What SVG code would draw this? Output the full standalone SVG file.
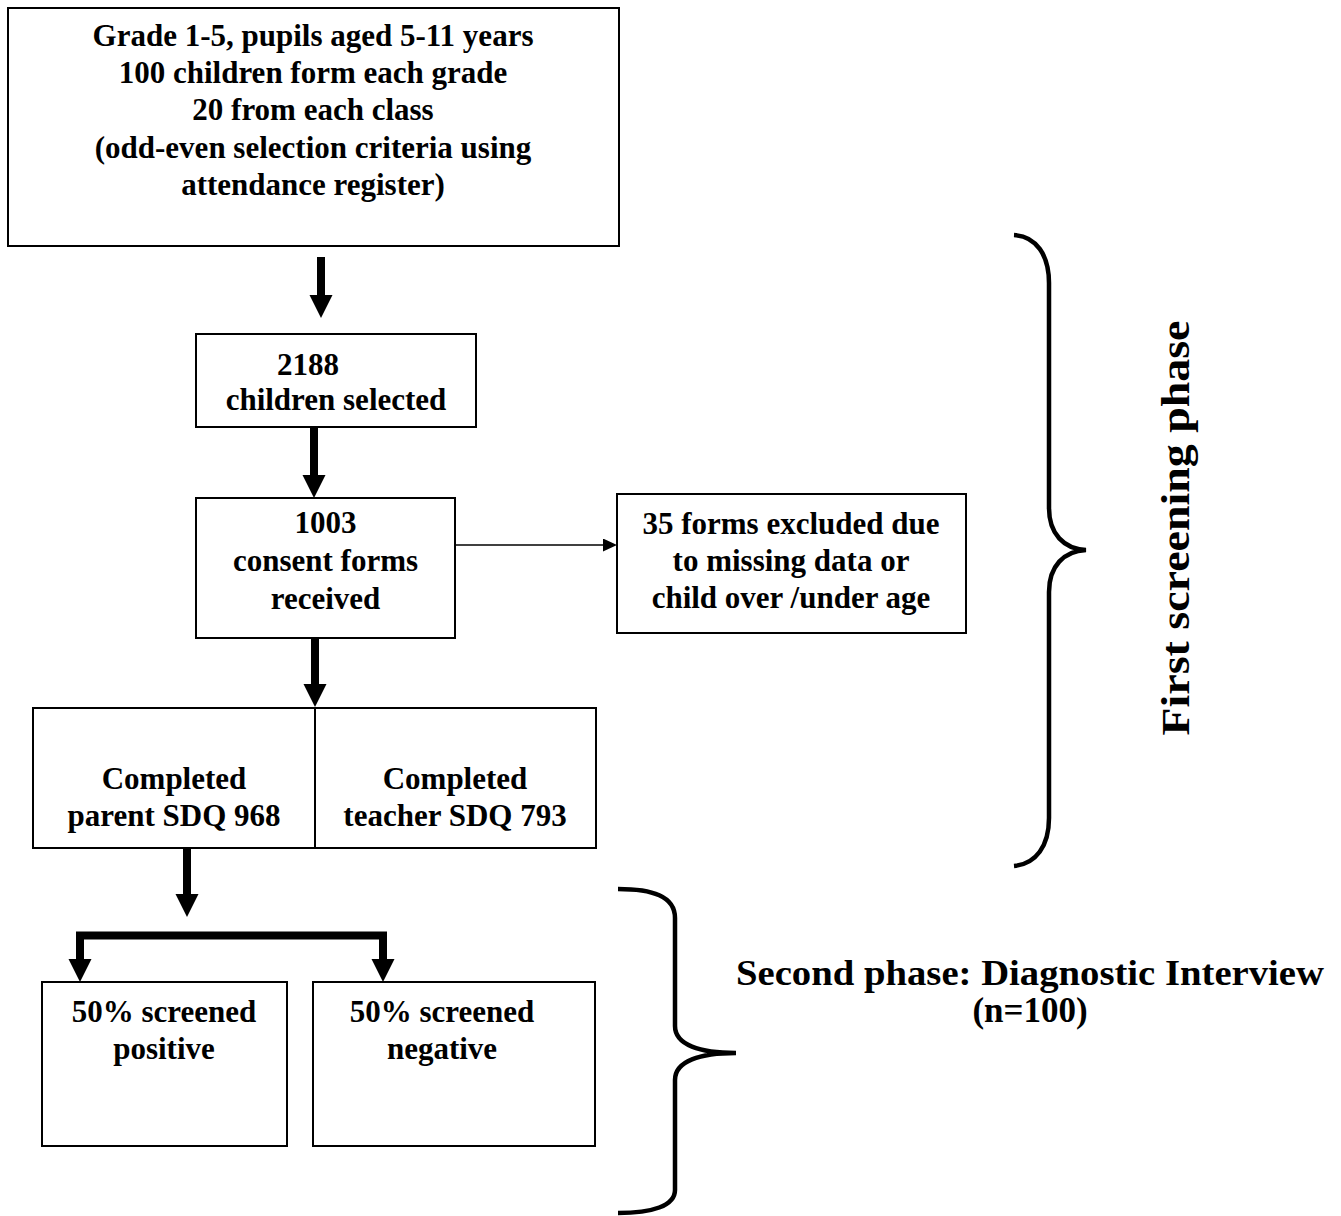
<svg xmlns="http://www.w3.org/2000/svg" width="1341" height="1216" viewBox="0 0 1341 1216">
  <style>
    .box { fill: #fff; stroke: #000; stroke-width: 2; }
    .lbl { font-family: "Liberation Serif", "Times New Roman", serif; font-weight: bold; font-size: 31px; fill: #000; text-anchor: middle; }
    .side { font-family: "Liberation Serif", "Times New Roman", serif; font-weight: bold; fill: #000; text-anchor: middle; }
    .bold { stroke: #000; stroke-width: 8; fill: none; }
    .thin { stroke: #000; stroke-width: 1.5; fill: none; }
    .brace { stroke: #000; stroke-width: 4.5; fill: none; stroke-linecap: butt; }
  </style>
  <defs>
    <marker id="headBold" markerUnits="userSpaceOnUse" markerWidth="24" markerHeight="24" refX="0" refY="11.5" orient="auto">
      <path d="M0,0 L23,11.5 L0,23 z" fill="#000"/>
    </marker>
    <marker id="headThin" markerUnits="userSpaceOnUse" markerWidth="16" markerHeight="14" refX="0" refY="6.5" orient="auto">
      <path d="M0,0 L14,6.5 L0,13 z" fill="#000"/>
    </marker>
  </defs>

  <rect width="1341" height="1216" fill="#fff"/>

  <!-- connectors -->
  <g id="connectors">
    <line class="bold" x1="321" y1="257" x2="321" y2="295" marker-end="url(#headBold)"/>
    <line class="bold" x1="314" y1="427" x2="314" y2="475" marker-end="url(#headBold)"/>
    <line class="bold" x1="315" y1="638" x2="315" y2="684" marker-end="url(#headBold)"/>
    <line class="thin" x1="455" y1="545" x2="603" y2="545" marker-end="url(#headThin)"/>
    <line class="bold" x1="187" y1="848" x2="187" y2="894" marker-end="url(#headBold)"/>
    <path class="bold" d="M80,959 L80,935.5 L383,935.5 L383,959" stroke-linejoin="miter"/>
    <line class="bold" x1="80" y1="955" x2="80" y2="959" marker-end="url(#headBold)"/>
    <line class="bold" x1="383" y1="955" x2="383" y2="959" marker-end="url(#headBold)"/>
  </g>

  <!-- sampling frame -->
  <g id="node-sampling">
    <rect class="box" x="8" y="8" width="611" height="238"/>
    <text class="lbl" x="313" y="46">Grade 1-5, pupils aged 5-11 years</text>
    <text class="lbl" x="313" y="83">100 children form each grade</text>
    <text class="lbl" x="313" y="120">20 from each class</text>
    <text class="lbl" x="313" y="158">(odd-even selection criteria using</text>
    <text class="lbl" x="313" y="195">attendance register)</text>
  </g>

  <g id="node-selected">
    <rect class="box" x="196" y="334" width="280" height="93"/>
    <text class="lbl" x="308" y="375">2188</text>
    <text class="lbl" x="336" y="410">children selected</text>
  </g>

  <g id="node-consent">
    <rect class="box" x="196" y="498" width="259" height="140"/>
    <text class="lbl" x="325.5" y="533">1003</text>
    <text class="lbl" x="325.5" y="571">consent forms</text>
    <text class="lbl" x="325.5" y="609">received</text>
  </g>

  <g id="node-excluded">
    <rect class="box" x="617" y="494" width="349" height="139"/>
    <text class="lbl" x="791" y="534">35 forms excluded due</text>
    <text class="lbl" x="791" y="571">to missing data or</text>
    <text class="lbl" x="791" y="608">child over /under age</text>
  </g>

  <g id="node-sdq">
    <rect class="box" x="33" y="708" width="563" height="140"/>
    <line x1="315" y1="708" x2="315" y2="848" stroke="#000" stroke-width="2"/>
    <text class="lbl" x="174" y="789">Completed</text>
    <text class="lbl" x="174" y="826">parent SDQ 968</text>
    <text class="lbl" x="455" y="789">Completed</text>
    <text class="lbl" x="455" y="826">teacher SDQ 793</text>
  </g>

  <g id="node-positive">
    <rect class="box" x="42" y="982" width="245" height="164"/>
    <text class="lbl" x="164" y="1022">50% screened</text>
    <text class="lbl" x="164" y="1059">positive</text>
  </g>

  <g id="node-negative">
    <rect class="box" x="313" y="982" width="282" height="164"/>
    <text class="lbl" x="442" y="1022">50% screened</text>
    <text class="lbl" x="442" y="1059">negative</text>
  </g>

  <!-- phase brackets -->
  <g id="phase-first">
    <path class="brace" d="M1014,235 C1036,236 1049,255 1049,283 L1049,508 C1049,534 1064,549 1086,550 C1064,551 1049,566 1049,592 L1049,818 C1049,846 1036,864 1014,866"/>
    <text class="side" font-size="40" transform="translate(1189,528) rotate(-90)" textLength="415" lengthAdjust="spacingAndGlyphs">First screening phase</text>
  </g>

  <g id="phase-second">
    <path class="brace" d="M618,889 C652,889 675,896 675,918 L675,1026 C675,1045 700,1053 736,1053 C700,1053 675,1061 675,1080 L675,1190 C675,1206 652,1213 618,1213"/>
    <text class="side" font-size="35" x="1030" y="985" textLength="588" lengthAdjust="spacingAndGlyphs">Second phase: Diagnostic Interview</text>
    <text class="side" font-size="35" x="1030" y="1022">(n=100)</text>
  </g>
</svg>
